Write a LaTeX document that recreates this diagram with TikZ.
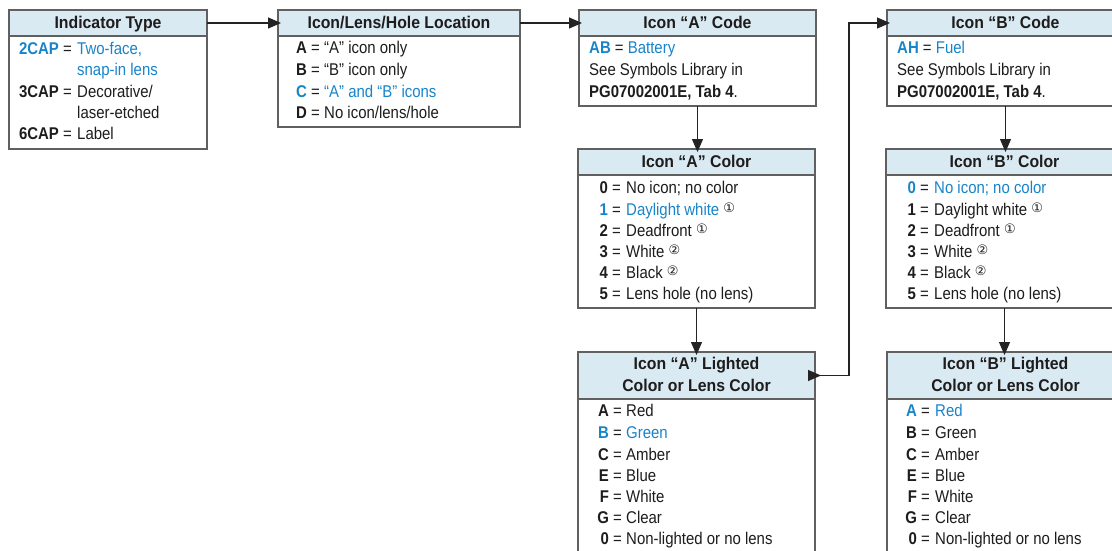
\documentclass[tikz,border=0pt]{standalone}
\usepackage{fontspec}
\setmainfont{Liberation Sans}[FakeStretch=0.88]
\newfontfamily\headfont{Liberation Sans}[FakeStretch=0.93]
\newfontfamily\symfont{DejaVu Sans}
\usetikzlibrary{arrows.meta,calc}
\definecolor{eblue}{RGB}{24,132,201}
\definecolor{headc}{RGB}{217,234,242}
\definecolor{bordc}{RGB}{96,96,96}
\definecolor{txtc}{RGB}{30,28,28}
\definecolor{linec}{RGB}{35,35,35}
\newcommand\cnum[1]{\raisebox{2.5pt}{\symfont\fontsize{13}{13}\selectfont #1}}
\newcommand\bl[1]{\textcolor{eblue}{#1}}
\tikzset{
  box/.style={draw=bordc, line width=1.3pt, anchor=north west, inner sep=0pt, outer sep=0pt},
  head/.style={box, fill=headc},
  htxt/.style={anchor=base, inner sep=0pt, text=txtc, font=\headfont\bfseries\fontsize{17}{21}\selectfont},
  ltxt/.style={anchor=base west, inner sep=0pt, text=txtc},
  rtxt/.style={anchor=base east, inner sep=0pt, text=txtc},
  conn/.style={draw=linec, line width=1.2pt, -{Triangle[length=13pt,width=11pt]}, shorten >=-3pt},
  conntwo/.style={draw=linec, line width=1.2pt, {Triangle[reversed,length=13pt,width=11pt]}-{Triangle[length=13pt,width=11pt]}, shorten >=-3pt, shorten <=-7pt},
}
\begin{document}
\begin{tikzpicture}[x=1pt,y=-1pt,font=\fontsize{17}{21}\selectfont]
\clip (0,0) rectangle (1112,551);
\fill[white] (0,0) rectangle (1112,551);

% boxes
\node[box, minimum width=198pt, minimum height=139pt] (b1) at (9,10) {};
\node[head, minimum width=198pt, minimum height=26pt] (h1) at (9,10) {};
\node[box, minimum width=242pt, minimum height=117pt] (b2) at (278,10) {};
\node[head, minimum width=242pt, minimum height=26pt] (h2) at (278,10) {};
\node[box, minimum width=237pt, minimum height=96pt] (b3) at (579,10) {};
\node[head, minimum width=237pt, minimum height=26pt] (h3) at (579,10) {};
\node[box, minimum width=237pt, minimum height=96pt] (b4) at (887,10) {};
\node[head, minimum width=237pt, minimum height=26pt] (h4) at (887,10) {};
\node[box, minimum width=237pt, minimum height=159pt] (b5) at (578,149) {};
\node[head, minimum width=237pt, minimum height=26pt] (h5) at (578,149) {};
\node[box, minimum width=237pt, minimum height=159pt] (b6) at (886,149) {};
\node[head, minimum width=237pt, minimum height=26pt] (h6) at (886,149) {};
\node[box, minimum width=237pt, minimum height=230pt] (b7) at (578,352) {};
\node[head, minimum width=237pt, minimum height=47pt] (h7) at (578,352) {};
\node[box, minimum width=237pt, minimum height=230pt] (b8) at (887,352) {};
\node[head, minimum width=237pt, minimum height=47pt] (h8) at (887,352) {};

% header texts
\node[htxt] (t1) at (108,28.5) {Indicator Type};
\node[htxt] (t2) at (399,28.5) {Icon/Lens/Hole Location};
\node[htxt] (t3) at (697.5,28.5) {Icon “A” Code};
\node[htxt] (t4) at (1005.5,28.5) {Icon “B” Code};
\node[htxt] (t5) at (696.5,167) {Icon “A” Color};
\node[htxt] (t6) at (1004.5,167) {Icon “B” Color};
\node[htxt] (t7a) at (696.5,369) {Icon “A” Lighted};
\node[htxt] (t7b) at (696.5,391) {Color or Lens Color};
\node[htxt] (t8a) at (1005.5,369) {Icon “B” Lighted};
\node[htxt] (t8b) at (1005.5,391) {Color or Lens Color};

% box 1 body
\node[rtxt] (c11) at (72,55) {\bl{\textbf{2CAP}} =};
\node[ltxt] (d11) at (77,55) {\bl{Two-face,}};
\node[ltxt] (d12) at (77,76) {\bl{snap-in lens}};
\node[rtxt] (c13) at (72,97.5) {\textbf{3CAP} =};
\node[ltxt] (d13) at (77,97.5) {Decorative/};
\node[ltxt] (d14) at (77,118.5) {laser-etched};
\node[rtxt] (c15) at (72,139.5) {\textbf{6CAP} =};
\node[ltxt] (d15) at (77,139.5) {Label};

% box 2 body
\node[rtxt] (c21) at (320,54) {\textbf{A} =};
\node[ltxt] (d21) at (324,54) {“A” icon only};
\node[rtxt] (c22) at (320,75.5) {\textbf{B} =};
\node[ltxt] (d22) at (324,75.5) {“B” icon only};
\node[rtxt] (c23) at (320,97) {\bl{\textbf{C}} =};
\node[ltxt] (d23) at (324,97) {\bl{“A” and “B” icons}};
\node[rtxt] (c24) at (320,118) {\textbf{D} =};
\node[ltxt] (d24) at (324,118) {No icon/lens/hole};

% box 3 body
\node[ltxt] (d31) at (589,54) {\bl{\textbf{AB}} = \bl{Battery}};
\node[ltxt] (d32) at (589,75.5) {See Symbols Library in};
\node[ltxt] (d33) at (589,97) {\textbf{PG07002001E, Tab 4}.};

% box 4 body
\node[ltxt] (d41) at (897,54) {\bl{\textbf{AH}} = \bl{Fuel}};
\node[ltxt] (d42) at (897,75.5) {See Symbols Library in};
\node[ltxt] (d43) at (897,97) {\textbf{PG07002001E, Tab 4}.};

% box 5 body
\node[rtxt] (c51) at (621,193.5) {\textbf{0} =};
\node[ltxt] (d51) at (626,193.5) {No icon; no color};
\node[rtxt] (c52) at (621,215) {\bl{\textbf{1}} =};
\node[ltxt] (d52) at (626,215) {\bl{Daylight white} \cnum{①}};
\node[rtxt] (c53) at (621,236) {\textbf{2} =};
\node[ltxt] (d53) at (626,236) {Deadfront \cnum{①}};
\node[rtxt] (c54) at (621,257) {\textbf{3} =};
\node[ltxt] (d54) at (626,257) {White \cnum{②}};
\node[rtxt] (c55) at (621,278) {\textbf{4} =};
\node[ltxt] (d55) at (626,278) {Black \cnum{②}};
\node[rtxt] (c56) at (621,299) {\textbf{5} =};
\node[ltxt] (d56) at (626,299) {Lens hole (no lens)};

% box 6 body
\node[rtxt] (c61) at (929,193.5) {\bl{\textbf{0}} =};
\node[ltxt] (d61) at (934,193.5) {\bl{No icon; no color}};
\node[rtxt] (c62) at (929,215) {\textbf{1} =};
\node[ltxt] (d62) at (934,215) {Daylight white \cnum{①}};
\node[rtxt] (c63) at (929,236) {\textbf{2} =};
\node[ltxt] (d63) at (934,236) {Deadfront \cnum{①}};
\node[rtxt] (c64) at (929,257) {\textbf{3} =};
\node[ltxt] (d64) at (934,257) {White \cnum{②}};
\node[rtxt] (c65) at (929,278) {\textbf{4} =};
\node[ltxt] (d65) at (934,278) {Black \cnum{②}};
\node[rtxt] (c66) at (929,299) {\textbf{5} =};
\node[ltxt] (d66) at (934,299) {Lens hole (no lens)};

% box 7 body
\node[rtxt] (c71) at (622,416) {\textbf{A} =};
\node[ltxt] (d71) at (626,416) {Red};
\node[rtxt] (c72) at (622,438) {\bl{\textbf{B}} =};
\node[ltxt] (d72) at (626,438) {\bl{Green}};
\node[rtxt] (c73) at (622,460) {\textbf{C} =};
\node[ltxt] (d73) at (626,460) {Amber};
\node[rtxt] (c74) at (622,481) {\textbf{E} =};
\node[ltxt] (d74) at (626,481) {Blue};
\node[rtxt] (c75) at (622,502) {\textbf{F} =};
\node[ltxt] (d75) at (626,502) {White};
\node[rtxt] (c76) at (622,523) {\textbf{G} =};
\node[ltxt] (d76) at (626,523) {Clear};
\node[rtxt] (c77) at (622,544) {\textbf{0} =};
\node[ltxt] (d77) at (626,544) {Non-lighted or no lens};

% box 8 body
\node[rtxt] (c81) at (930,416) {\bl{\textbf{A}} =};
\node[ltxt] (d81) at (935,416) {\bl{Red}};
\node[rtxt] (c82) at (930,438) {\textbf{B} =};
\node[ltxt] (d82) at (935,438) {Green};
\node[rtxt] (c83) at (930,460) {\textbf{C} =};
\node[ltxt] (d83) at (935,460) {Amber};
\node[rtxt] (c84) at (930,481) {\textbf{E} =};
\node[ltxt] (d84) at (935,481) {Blue};
\node[rtxt] (c85) at (930,502) {\textbf{F} =};
\node[ltxt] (d85) at (935,502) {White};
\node[rtxt] (c86) at (930,523) {\textbf{G} =};
\node[ltxt] (d86) at (935,523) {Clear};
\node[rtxt] (c87) at (930,544) {\textbf{0} =};
\node[ltxt] (d87) at (935,544) {Non-lighted or no lens};

% connectors
\draw[conn] (h1.east) -- (h2.west);
\draw[conn] (h2.east) -- (h3.west);
\draw[conn] (b3.south) -- (b3.south |- h5.north);
\draw[conn] (b5.south) -- (h7.north);
\draw[conn] (b4.south) -- (b4.south |- h6.north);
\draw[conn] (b6.south) -- (b6.south |- h8.north);
\coordinate (k) at (849,0);
\draw[conntwo] (h7.east) -- (h7.east -| k) |- (h4.west);
\end{tikzpicture}
\end{document}
